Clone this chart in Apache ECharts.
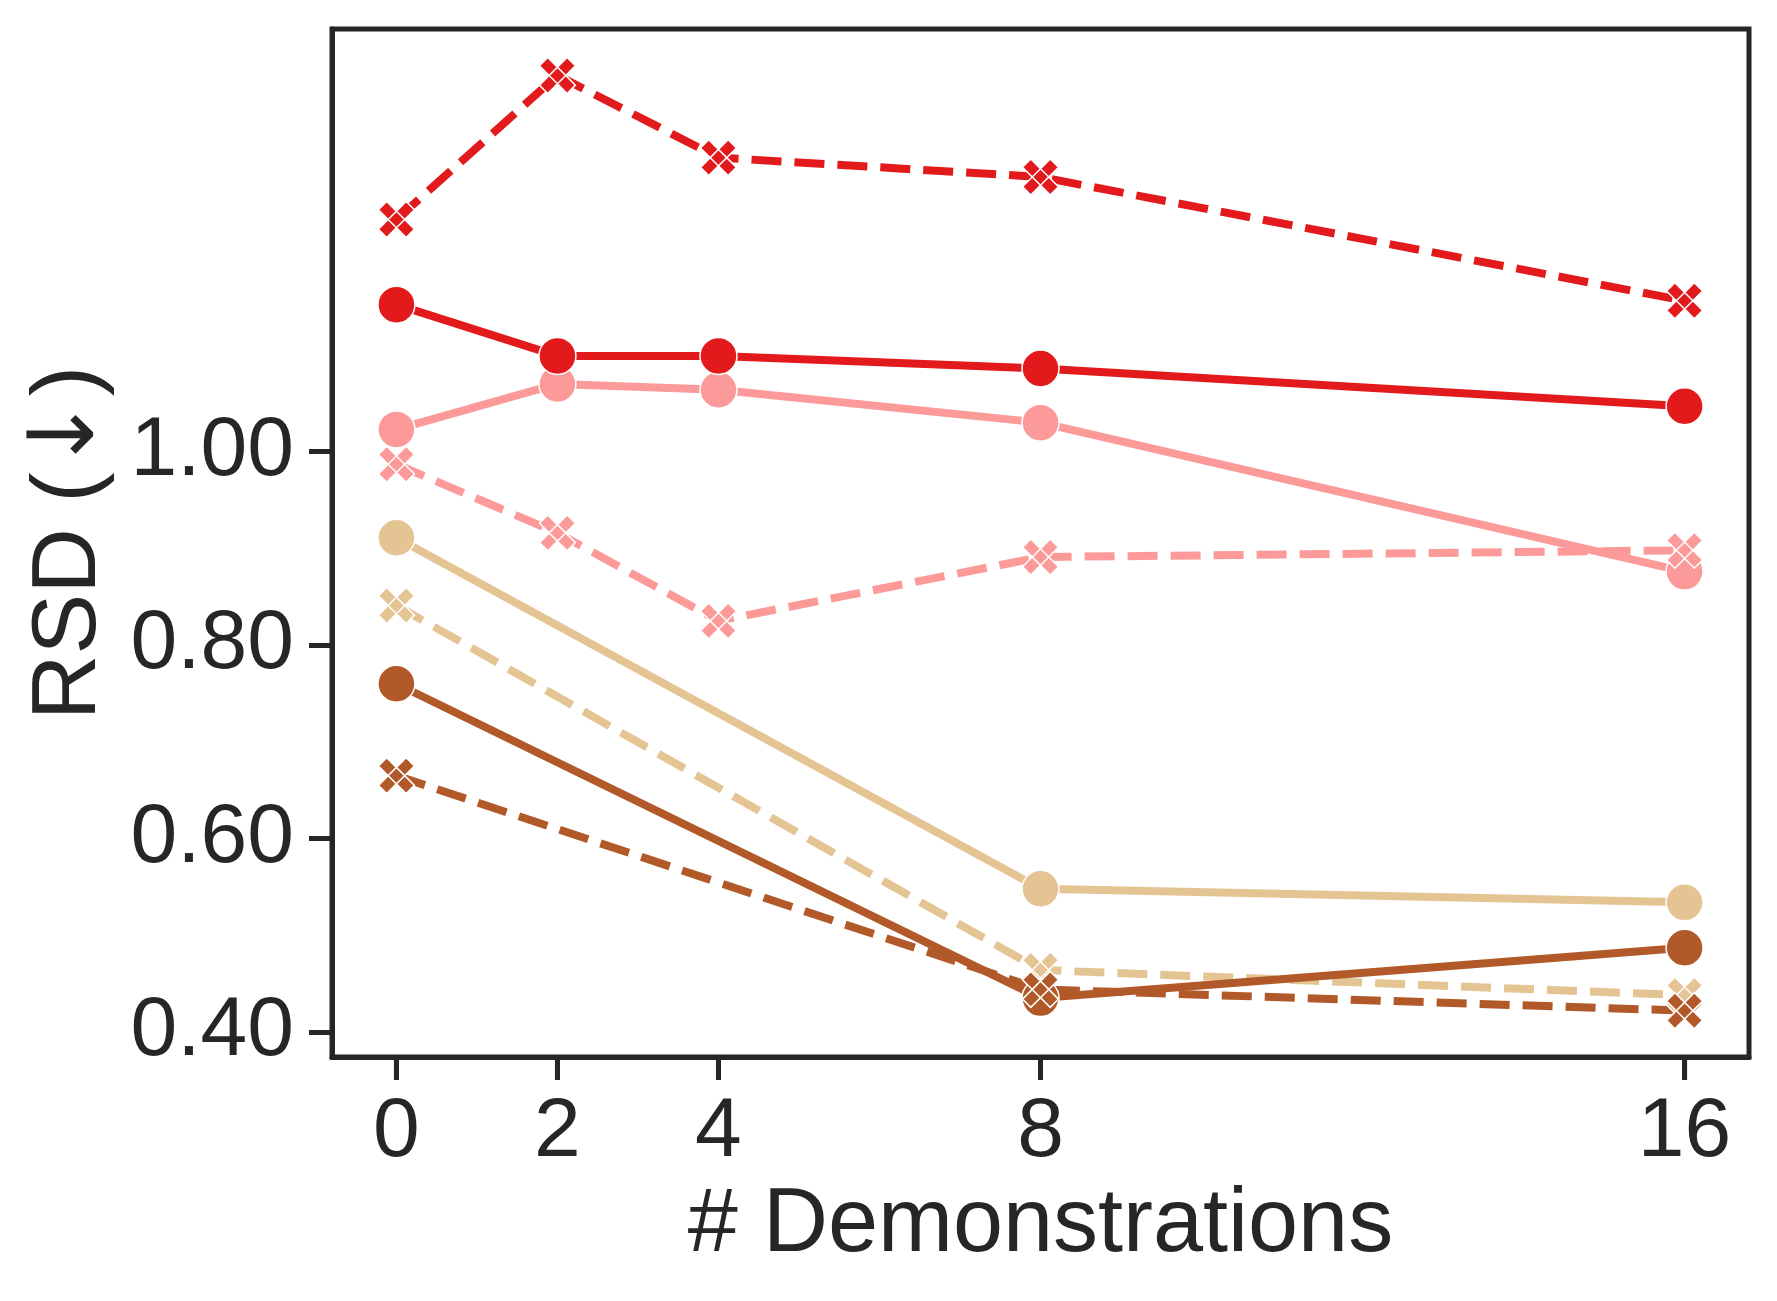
<!DOCTYPE html>
<html>
<head>
<meta charset="utf-8">
<script src="https://cdn.jsdelivr.net/npm/echarts@6/dist/echarts.min.js"></script>
<style>
  html, body { margin: 0; padding: 0; background: #fff; }
  #chart { width: 1777px; height: 1301px; }
</style>
</head>
<body>
<div id="chart"></div>
<script>
// demonstrations on the x axis
const shots = [0, 2, 4, 8, 16]
const shotsSparse = [0, 8, 16]

// RSD values
const redDashed = [1.240, 1.389, 1.304, 1.284, 1.156]
const redSolid = [1.152, 1.099, 1.099, 1.086, 1.047]
const pinkSolid = [1.023, 1.070, 1.064, 1.030, 0.876]
const pinkDashed = [0.987, 0.916, 0.825, 0.891, 0.898]
const tanSolid = [0.911, 0.548, 0.534]
const tanDashed = [0.841, 0.464, 0.438]
const brownSolid = [0.760, 0.435, 0.487]
const brownDashed = [0.665, 0.444, 0.422]

const xTicks = [0, 2, 4, 8, 16]
const yTicks = [0.4, 0.6, 0.8, 1.0]
const xMin = -0.8, xMax = 16.8
const yMin = 0.3741, yMax = 1.437

const ink = '#262626'
const font = "'Liberation Sans', Arial, sans-serif"
const tickLen = 23
// thick "x" marker like matplotlib's
const crossPath = 'path://M0,23 L23,0 L100,77 L77,100 Z M77,0 L100,23 L23,100 L0,77 Z'

const mk = (xs, ys, color, dashed) => ({
  type: 'line',
  data: xs.map((x, i) => [x, ys[i]]),
  symbol: dashed ? crossPath : 'circle',
  symbolSize: dashed ? 36 : 37,
  showSymbol: true,
  lineStyle: { color: color, width: 8, type: dashed ? [30, 13] : 'solid', cap: 'butt' },
  itemStyle: { color: color, borderColor: '#fff', borderWidth: 1.5 }
})

const chart = echarts.init(document.getElementById('chart'))
chart.setOption({
  animation: false,
  grid: {
    left: 332, top: 29, right: 28, bottom: 244,
    show: true, borderColor: ink, borderWidth: 5
  },
  xAxis: [
    {
      // ticks + labels
      type: 'value', min: xMin, max: xMax, position: 'bottom',
      axisLine: { show: true, onZero: false, lineStyle: { color: ink, width: 5 } },
      splitLine: { show: false },
      axisTick: { show: true, length: tickLen, lineStyle: { color: ink, width: 5 }, customValues: xTicks },
      axisLabel: { fontSize: 84, color: ink, margin: 34, fontFamily: font, customValues: xTicks }
    },
    {
      // title only
      type: 'value', min: xMin, max: xMax, position: 'bottom',
      name: '# Demonstrations', nameLocation: 'middle', nameGap: 124,
      nameTextStyle: { fontSize: 90, color: ink, fontFamily: font },
      axisLine: { show: false, onZero: false },
      splitLine: { show: false },
      axisTick: { show: false },
      axisLabel: { show: false }
    }
  ],
  yAxis: {
    type: 'value', min: yMin, max: yMax, position: 'left',
    name: 'RSD ({a|↓})', nameLocation: 'middle', nameGap: 217,
    nameTextStyle: {
      fontSize: 91, color: ink, fontFamily: font,
      rich: { a: { fontSize: 91, color: ink, fontFamily: "'DejaVu Sans', sans-serif" } }
    },
    axisLine: { show: true, onZero: false, lineStyle: { color: ink, width: 5 } },
    splitLine: { show: false },
    axisTick: { show: true, length: tickLen, lineStyle: { color: ink, width: 5 }, customValues: yTicks },
    axisLabel: { fontSize: 84, color: ink, margin: 38, fontFamily: font, customValues: yTicks,
      formatter: v => v.toFixed(2) }
  },
  series: [
    mk(shots, pinkSolid, '#fb9a99', false),
    mk(shots, pinkDashed, '#fb9a99', true),
    mk(shots, redSolid, '#e31a1c', false),
    mk(shots, redDashed, '#e31a1c', true),
    mk(shotsSparse, tanSolid, '#e5c494', false),
    mk(shotsSparse, tanDashed, '#e5c494', true),
    mk(shotsSparse, brownSolid, '#b15928', false),
    mk(shotsSparse, brownDashed, '#b15928', true)
  ]
})

// backup bottom ticks, positioned through the x scale
const bottom = chart.convertToPixel({ yAxisIndex: 0 }, yMin)
chart.setOption({
  graphic: xTicks.map(v => {
    const x = chart.convertToPixel({ xAxisIndex: 0 }, v)
    return {
      type: 'line', z: 100, silent: true,
      shape: { x1: x, y1: bottom, x2: x, y2: bottom + tickLen },
      style: { stroke: ink, lineWidth: 5 }
    }
  })
})
</script>
</body>
</html>
